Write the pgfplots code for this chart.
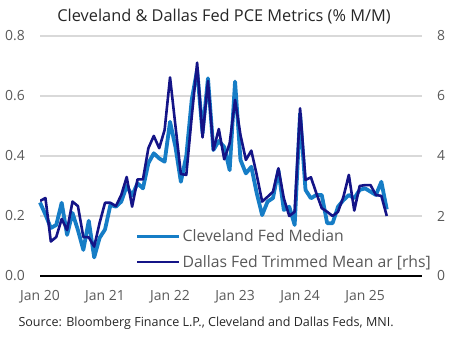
\documentclass[border=0pt]{standalone}
\usepackage{fontspec}
\setmainfont{Open Sans}
\usepackage{pgfplots}
\pgfplotsset{compat=1.18}
\usepackage{pgfplotstable}
\usetikzlibrary{calc}
\definecolor{cleve}{RGB}{22,125,198}
\definecolor{dallas}{RGB}{20,20,135}
\definecolor{gridgray}{RGB}{217,217,217}
\definecolor{txtgray}{RGB}{89,89,89}

\pgfplotstableread{
i c d
0 0.245 2.50
1 0.205 2.60
2 0.160 1.15
3 0.170 1.30
4 0.244 1.90
5 0.137 1.53
6 0.210 2.48
7 0.153 2.33
8 0.087 1.30
9 0.184 1.29
10 0.062 0.98
11 0.127 1.77
12 0.155 2.44
13 0.237 2.44
14 0.231 2.33
15 0.248 2.70
16 0.300 3.30
17 0.268 2.31
18 0.309 3.22
19 0.292 3.22
20 0.376 4.26
21 0.409 4.67
22 0.392 4.26
23 0.381 4.87
24 0.514 6.62
25 0.430 5.00
26 0.314 3.40
27 0.400 3.37
28 0.587 5.30
29 0.687 7.11
30 0.476 4.62
31 0.659 6.50
32 0.420 4.20
33 0.450 4.90
34 0.430 3.89
35 0.353 4.42
36 0.648 5.87
37 0.387 4.70
38 0.342 3.87
39 0.364 4.18
40 0.276 3.37
41 0.203 2.48
42 0.248 2.64
43 0.260 2.81
44 0.353 3.59
45 0.220 2.59
46 0.231 2.00
47 0.170 2.14
48 0.542 5.59
49 0.287 3.20
50 0.259 3.29
51 0.270 2.76
52 0.270 2.26
53 0.176 2.14
54 0.176 2.00
55 0.231 2.14
56 0.253 2.64
57 0.270 3.37
58 0.259 2.18
59 0.287 3.00
60 0.292 3.03
61 0.281 3.03
62 0.270 2.70
63 0.314 2.67
64 0.222 2.00
}\datatable

\begin{document}
\begin{tikzpicture}
\pgfplotsset{
  common/.style={
    scale only axis, width=382bp, height=240bp,
    xmin=0, xmax=70.5,
    major tick length=0,
    tick label style={font=\fontsize{14}{16}\selectfont, text=txtgray, inner sep=0pt},
    /pgf/number format/assume math mode=true,
  }
}
\begin{axis}[common, name=ax,
  ymin=0, ymax=0.8,
  ytick={0,0.2,0.4,0.6,0.8},
  yticklabel style={/pgf/number format/fixed, /pgf/number format/fixed zerofill, /pgf/number format/precision=1, anchor=east, xshift=-15bp},
  xtick={0,12,24,36,48,60},
  xticklabels={Jan 20,Jan 21,Jan 22,Jan 23,Jan 24,Jan 25},
  xticklabel style={anchor=center, yshift=-21bp},
  ymajorgrids, y grid style={gridgray, line width=1.3bp},
  axis line style={draw=none},
  clip=false,
]
\draw[black, line width=1.5bp] (axis cs:0,0) -- (axis cs:70.5,0);
\addplot[cleve, line width=3.8bp, line join=round] table[x=i, y=c] {\datatable};
\end{axis}
\begin{axis}[common,
  ymin=0, ymax=8,
  ytick={0,2,4,6,8},
  axis y line*=right, axis x line=none,
  yticklabel style={anchor=west, xshift=15bp},
  axis line style={draw=none},
  legend style={at={(0.249,0.20)}, anchor=north west, draw=none, fill=white,
    font=\fontsize{15.8}{18}\selectfont, text=txtgray, inner sep=0pt,
    row sep=9bp, nodes={inner sep=1.5bp}},
  legend cell align=left,
  legend image code/.code={\draw[#1] (0bp,0bp) -- (42bp,0bp);},
]
\addlegendimage{cleve, line width=3.8bp}
\addlegendentry{Cleveland Fed Median}
\addplot[dallas, line width=2.6bp, line join=round] table[x=i, y=d] {\datatable};
\addlegendentry{Dallas Fed Trimmed Mean ar [rhs]}
\end{axis}
\node[font=\fontsize{16.4}{20}\selectfont, text=black!85] at ($(ax.north west)+(184bp,19bp)$) {Cleveland \& Dallas Fed PCE Metrics (\% M/M)};
\node[font=\fontsize{12.6}{16}\selectfont, text=black!85, anchor=west] at ($(ax.south west)+(-25bp,-47bp)$) {Source: Bloomberg Finance L.P., Cleveland and Dallas Feds, MNI.};
\path ($(ax.south west)+(-40bp,-65bp)$) rectangle ($(ax.north east)+(27bp,36bp)$);
\end{tikzpicture}
\end{document}
